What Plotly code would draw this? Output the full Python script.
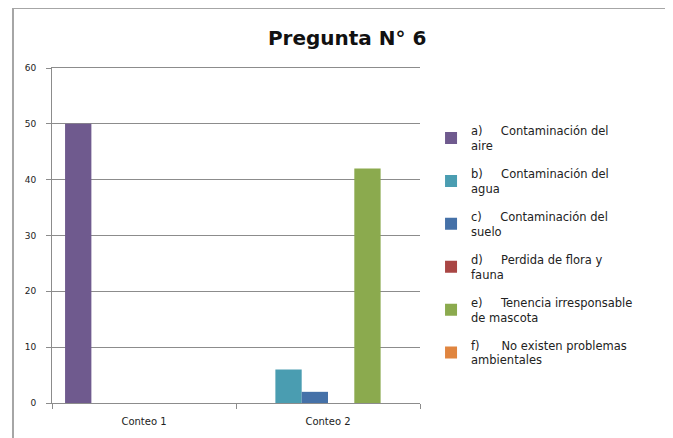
import plotly.graph_objects as go

# ==========================================
# DATOS
# ==========================================
categorias = ["Conteo 1", "Conteo 2"]

series = [
    "a)\u00a0\u00a0\u00a0\u00a0\u00a0Contaminación del<br>aire",
    "b)\u00a0\u00a0\u00a0\u00a0\u00a0Contaminación del<br>agua",
    "c)\u00a0\u00a0\u00a0\u00a0\u00a0Contaminación\u00a0del<br>suelo",
    "d)\u00a0\u00a0\u00a0\u00a0\u00a0Perdida de flora y<br>fauna",
    "e)\u00a0\u00a0\u00a0\u00a0\u00a0Tenencia irresponsable<br>de mascota",
    "f)\u00a0\u00a0\u00a0\u00a0\u00a0\u00a0No existen problemas<br>ambientales",
]

valores_a = [50, 0]
valores_b = [0, 6]
valores_c = [0, 2]
valores_d = [0, 0]
valores_e = [0, 42]
valores_f = [0, 0]

colores = ["#6F5A8E", "#4A9DB1", "#4571A8", "#A94644", "#8BAA4E", "#E0853F"]

fuente = "'DejaVu Sans', sans-serif"

# ==========================================
# FIGURA
# ==========================================
fig = go.Figure()
for i, (nombre, vals, col) in enumerate(zip(
    series,
    [valores_a, valores_b, valores_c, valores_d, valores_e, valores_f],
    colores,
)):
    fig.add_trace(go.Bar(x=categorias, y=vals, name=nombre, marker_color=col,
                         marker_line_width=0, legendgroup=f"g{i}"))

# marco del grafico (como en Excel)
fig.add_shape(type="rect", xref="paper", yref="paper",
              x0=-0.106, x1=1.671, y0=-0.13, y1=1.179,
              line=dict(color="#A6A6A6", width=2), layer="below")

# la pagina tiene 8px de margen en body -> se compensa
fig.update_layout(
    width=665, height=430,
    title=dict(text="<b>Pregunta N° 6</b>", x=0.51, xanchor="center",
               y=0.93, yanchor="middle",
               font=dict(family=fuente, size=20, color="#111111")),
    barmode="group", bargap=0.142, bargroupgap=0,
    plot_bgcolor="white", paper_bgcolor="white",
    font=dict(family=fuente, color="#222222"),
    margin=dict(l=44, r=253, t=60, b=35),
    showlegend=True,
    legend=dict(x=1.03, xanchor="left", y=0.855, yanchor="top",
                font=dict(size=11.5), itemwidth=30, tracegroupgap=10,
                bgcolor="rgba(0,0,0,0)"),
    xaxis=dict(showline=True, linecolor="#8C8C8C", linewidth=1, mirror=True,
               ticks="outside", tickson="boundaries", ticklen=5,
               tickcolor="#8C8C8C", tickfont=dict(size=10),
               ticklabelstandoff=9),
    yaxis=dict(range=[0, 60], dtick=10, showgrid=True, gridcolor="#8C8C8C",
               gridwidth=1, showline=True, linecolor="#8C8C8C", linewidth=1,
               ticks="outside", ticklen=5, tickcolor="#8C8C8C",
               ticklabelstandoff=8, tickfont=dict(size=9), zeroline=False),
)

fig.write_html("out.html")
